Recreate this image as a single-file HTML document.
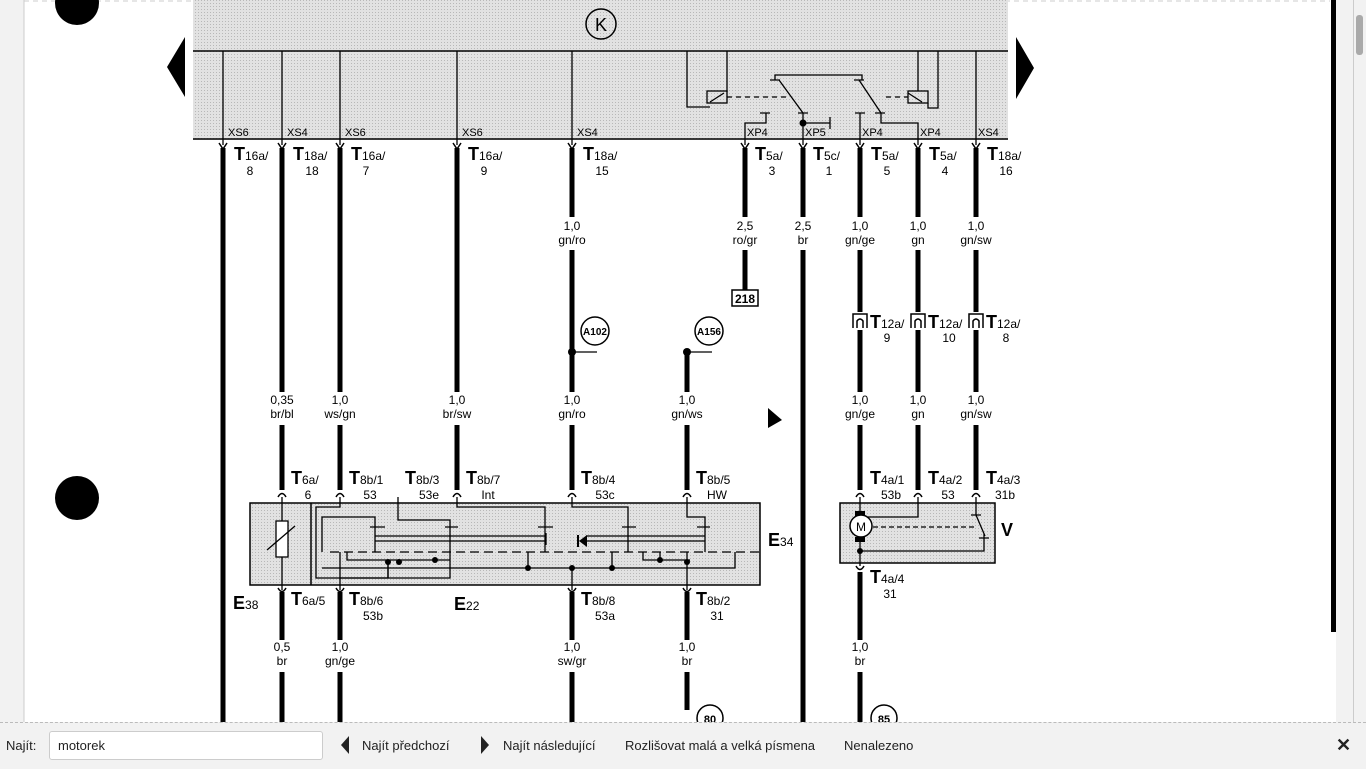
<!DOCTYPE html>
<html><head><meta charset="utf-8"><style>
html,body{margin:0;padding:0;width:1366px;height:768px;overflow:hidden;background:#fff;font-family:"Liberation Sans",sans-serif}
svg{position:absolute;left:0;top:0}
.bar{position:absolute;left:0;top:722px;width:1366px;height:46px;background:#f2f2f2;border-top:1px dashed #bbb;font-size:13px;color:#222}
.bar span{position:absolute;top:15px}
</style></head><body>
<svg width="1366" height="722" viewBox="0 0 1366 722" font-family="Liberation Sans, sans-serif">
<defs>
<pattern id="dots" width="3" height="3" patternUnits="userSpaceOnUse"><rect width="3" height="3" fill="#e2e2e2"/><rect width="1" height="1" fill="#b8b8b8"/></pattern>
</defs>
<rect x="0" y="0" width="24" height="722" fill="#f2f2f2"/>
<line x1="24" y1="0" x2="24" y2="722" stroke="#ccc"/>
<rect x="1336" y="0" width="30" height="722" fill="#f2f2f2"/>
<rect x="1331" y="0" width="5" height="632" fill="#000"/>
<line x1="1353.5" y1="0" x2="1353.5" y2="722" stroke="#ccc"/>
<rect x="1356" y="15" width="7" height="40" rx="3" fill="#aaa"/>
<line x1="24" y1="1" x2="1330" y2="1" stroke="#ccc" stroke-dasharray="5,4"/>
<!-- header -->
<rect x="193" y="0" width="815" height="140" fill="url(#dots)"/>
<line x1="193" y1="51" x2="1008" y2="51" stroke="#000" stroke-width="1.5"/>
<line x1="193" y1="139" x2="1008" y2="139" stroke="#000" stroke-width="1.5"/>
<circle cx="601" cy="24" r="15" fill="none" stroke="#000" stroke-width="1.5"/>
<text x="601" y="31" font-size="18" text-anchor="middle">K</text>
<circle cx="77" cy="3" r="22" fill="#000"/>
<circle cx="77" cy="498" r="22" fill="#000"/>
<polygon points="185,37 185,97 167,67" fill="#000"/>
<polygon points="1016,37 1016,99 1034,68" fill="#000"/>
<!-- thin wires in header -->
<g stroke="#000" stroke-width="1.3" fill="none">
<path d="M223,51V145M282,51V145M340,51V145M457,51V145M572,51V145M976,51V145"/>
<path d="M687,51V107H710M727,51V92"/>
<rect x="707" y="91" width="20" height="12"/>
<path d="M710,102L724,93M908,93L922,102"/>
<path d="M775,80V75H862V80M770,80H780M854,80H864M779,80L803,113M859,80L881,113"/>
<path d="M745,145V123H766V113M760,113H770M798,113H808M803,113V145M803,123H830M830,117V129"/>
<path d="M860,145V113M855,113H865M875,113H885M881,113V123H918V145"/>
<rect x="908" y="91" width="20" height="12"/>
<path d="M918,51V91M938,51V108H928V103"/>
</g>
<circle cx="803" cy="123" r="3.5" fill="#000"/>
<path d="M727,97H790M886,97H908" stroke="#000" stroke-width="1.3" stroke-dasharray="5,4"/>
<!-- thick wires -->
<g stroke="#000" stroke-width="5" fill="none">
<path d="M223,148V722"/>
<path d="M282,148V392M282,425V490M282,592V640M282,672V722"/>
<path d="M340,148V392M340,425V490M340,592V640M340,672V722"/>
<path d="M457,148V392M457,425V490"/>
<path d="M572,148V217M572,250V392M572,425V490M572,592V640M572,672V722"/>
<path d="M687,352V392M687,425V490M687,592V640M687,672V710"/>
<path d="M745,148V217M745,250V290"/>
<path d="M803,148V217M803,250V722"/>
<path d="M860,148V217M860,250V312M860,330V392M860,425V490M860,572V640M860,672V722"/>
<path d="M918,148V217M918,250V312M918,330V392M918,425V490"/>
<path d="M976,148V217M976,250V312M976,330V392M976,425V490"/>
</g>
<!-- arrowheads -->
<g stroke="#000" stroke-width="1.5" fill="none">
<path d="M219,143L223,149L227,143M278,143L282,149L286,143M336,143L340,149L344,143M453,143L457,149L461,143M568,143L572,149L576,143M741,143L745,149L749,143M799,143L803,149L807,143M856,143L860,149L864,143M914,143L918,149L922,143M972,143L976,149L980,143"/>
<path d="M278,497Q282,490 286,497M336,497Q340,490 344,497M453,497Q457,490 461,497M568,497Q572,490 576,497M683,497Q687,490 691,497M856,497Q860,490 864,497M914,497Q918,490 922,497M972,497Q976,490 980,497"/>
<path d="M278,588Q282,595 286,588M336,588Q340,595 344,588M568,588Q572,595 576,588M683,588Q687,595 691,588M856,566Q860,573 864,566"/>
</g>
<!-- A102/A156 -->
<circle cx="572" cy="352" r="4" fill="#000"/><path d="M572,352H597" stroke="#000" stroke-width="1.3"/>
<circle cx="595" cy="331" r="14" fill="#fff" stroke="#000" stroke-width="1.5"/><text x="595" y="335" font-size="10" font-weight="bold" text-anchor="middle">A102</text>
<circle cx="687" cy="352" r="4" fill="#000"/><path d="M687,352H712" stroke="#000" stroke-width="1.3"/>
<circle cx="709" cy="331" r="14" fill="#fff" stroke="#000" stroke-width="1.5"/><text x="709" y="335" font-size="10" font-weight="bold" text-anchor="middle">A156</text>
<rect x="732" y="290" width="26" height="16" fill="#fff" stroke="#000" stroke-width="1.5"/><text x="745" y="303" font-size="12" font-weight="bold" text-anchor="middle">218</text>
<circle cx="710" cy="718" r="13" fill="#fff" stroke="#000" stroke-width="1.5"/><text x="710" y="723" font-size="11" font-weight="bold" text-anchor="middle">80</text>
<circle cx="884" cy="718" r="13" fill="#fff" stroke="#000" stroke-width="1.5"/><text x="884" y="723" font-size="11" font-weight="bold" text-anchor="middle">85</text>
<!-- T12a connectors -->
<g fill="#fff" stroke="#000" stroke-width="1.5">
<path d="M853,328V314H867V328M857,328V321Q860,317 863,321V328"/>
<path d="M911,328V314H925V328M915,328V321Q918,317 921,321V328"/>
<path d="M969,328V314H983V328M973,328V321Q976,317 979,321V328"/>
</g>
<!-- boxes -->
<rect x="250" y="503" width="510" height="82" fill="url(#dots)" stroke="#000" stroke-width="1.5"/>
<line x1="311" y1="503" x2="311" y2="585" stroke="#000" stroke-width="1.5"/>
<rect x="840" y="503" width="155" height="60" fill="url(#dots)" stroke="#000" stroke-width="1.5"/>
<g stroke="#000" stroke-width="1.3" fill="none">
<path d="M282,497V590"/>
<rect x="276" y="521" width="12" height="36" fill="#fff"/>
<path d="M267,550L295,526"/>
<path d="M340,497V507H316V578H388V560"/>
<path d="M322,552V517H375V552M340,552V590"/>
<path d="M398,497V520H450V552M457,497V507H545V552M572,497V507H628V552M687,497V517H705V552"/>
<path d="M375,536H545M375,541H545M546,533V545M586,536H705M586,541H705"/>
<path d="M370,527H385M445,527H458M538,527H553M622,527H636M697,527H710"/>
<path d="M347,552V560H450V552M388,560V578M450,560V578H340"/>
<path d="M322,568H735V552M528,552V568M612,552V568M643,552V560H690M660,560V552M687,552V590M572,568V590"/>
</g>
<polygon points="579,541 587,535 587,547" fill="#000"/><line x1="578" y1="535" x2="578" y2="547" stroke="#000" stroke-width="2"/>
<path d="M330,552H760" stroke="#000" stroke-width="1.3" stroke-dasharray="9,5"/>
<g fill="#000"><circle cx="388" cy="562" r="3"/><circle cx="399" cy="562" r="3"/><circle cx="435" cy="560" r="3"/><circle cx="528" cy="568" r="3"/><circle cx="572" cy="568" r="3"/><circle cx="612" cy="568" r="3"/><circle cx="660" cy="560" r="3"/><circle cx="687" cy="562" r="3"/></g>
<!-- V motor -->
<g stroke="#000" stroke-width="1.3" fill="none">
<path d="M860,497V515M860,537V566M918,497V517H868M976,497V515L985,536M984,534V551H860M971,515H981M979,538H989"/>
</g>
<path d="M873,527H975" stroke="#000" stroke-width="1.3" stroke-dasharray="5,3"/>
<rect x="855" y="511" width="10" height="5" fill="#000"/><rect x="855" y="537" width="10" height="5" fill="#000"/>
<circle cx="861" cy="526" r="11" fill="#fff" stroke="#000" stroke-width="1.5"/><text x="861" y="531" font-size="12" text-anchor="middle">M</text>
<circle cx="860" cy="551" r="3" fill="#000"/>
<!-- XS labels -->
<g font-size="11" fill="#000">
<text x="228" y="136">XS6</text><text x="287" y="136">XS4</text><text x="345" y="136">XS6</text><text x="462" y="136">XS6</text><text x="577" y="136">XS4</text>
<text x="747" y="136">XP4</text><text x="805" y="136">XP5</text><text x="862" y="136">XP4</text><text x="920" y="136">XP4</text><text x="978" y="136">XS4</text>
</g>
<!-- T labels -->
<g font-size="18" font-weight="bold" fill="#000">
<text x="234" y="160">T<tspan font-size="12" font-weight="normal">16a/</tspan></text>
<text x="293" y="160">T<tspan font-size="12" font-weight="normal">18a/</tspan></text>
<text x="351" y="160">T<tspan font-size="12" font-weight="normal">16a/</tspan></text>
<text x="468" y="160">T<tspan font-size="12" font-weight="normal">16a/</tspan></text>
<text x="583" y="160">T<tspan font-size="12" font-weight="normal">18a/</tspan></text>
<text x="755" y="160">T<tspan font-size="12" font-weight="normal">5a/</tspan></text>
<text x="813" y="160">T<tspan font-size="12" font-weight="normal">5c/</tspan></text>
<text x="871" y="160">T<tspan font-size="12" font-weight="normal">5a/</tspan></text>
<text x="929" y="160">T<tspan font-size="12" font-weight="normal">5a/</tspan></text>
<text x="987" y="160">T<tspan font-size="12" font-weight="normal">18a/</tspan></text>
<text x="870" y="328">T<tspan font-size="12" font-weight="normal">12a/</tspan></text>
<text x="928" y="328">T<tspan font-size="12" font-weight="normal">12a/</tspan></text>
<text x="986" y="328">T<tspan font-size="12" font-weight="normal">12a/</tspan></text>
<text x="291" y="484">T<tspan font-size="12" font-weight="normal">6a/</tspan></text>
<text x="349" y="484">T<tspan font-size="12" font-weight="normal">8b/1</tspan></text>
<text x="405" y="484">T<tspan font-size="12" font-weight="normal">8b/3</tspan></text>
<text x="466" y="484">T<tspan font-size="12" font-weight="normal">8b/7</tspan></text>
<text x="581" y="484">T<tspan font-size="12" font-weight="normal">8b/4</tspan></text>
<text x="696" y="484">T<tspan font-size="12" font-weight="normal">8b/5</tspan></text>
<text x="870" y="484">T<tspan font-size="12" font-weight="normal">4a/1</tspan></text>
<text x="928" y="484">T<tspan font-size="12" font-weight="normal">4a/2</tspan></text>
<text x="986" y="484">T<tspan font-size="12" font-weight="normal">4a/3</tspan></text>
<text x="291" y="605">T<tspan font-size="12" font-weight="normal">6a/5</tspan></text>
<text x="349" y="605">T<tspan font-size="12" font-weight="normal">8b/6</tspan></text>
<text x="581" y="605">T<tspan font-size="12" font-weight="normal">8b/8</tspan></text>
<text x="696" y="605">T<tspan font-size="12" font-weight="normal">8b/2</tspan></text>
<text x="870" y="583">T<tspan font-size="12" font-weight="normal">4a/4</tspan></text>
<text x="233" y="609">E<tspan font-size="12" font-weight="normal">38</tspan></text>
<text x="454" y="610">E<tspan font-size="12" font-weight="normal">22</tspan></text>
<text x="768" y="546">E<tspan font-size="12" font-weight="normal">34</tspan></text>
<text x="1001" y="536">V</text>
</g>
<g font-size="12" fill="#000" text-anchor="middle">
<text x="250" y="175">8</text><text x="312" y="175">18</text><text x="366" y="175">7</text><text x="484" y="175">9</text><text x="602" y="175">15</text>
<text x="772" y="175">3</text><text x="829" y="175">1</text><text x="887" y="175">5</text><text x="945" y="175">4</text><text x="1006" y="175">16</text>
<text x="887" y="342">9</text><text x="949" y="342">10</text><text x="1006" y="342">8</text>
<text x="308" y="499">6</text><text x="370" y="499">53</text><text x="429" y="499">53e</text><text x="488" y="499">Int</text><text x="605" y="499">53c</text><text x="717" y="499">HW</text>
<text x="891" y="499">53b</text><text x="948" y="499">53</text><text x="1005" y="499">31b</text>
<text x="373" y="620">53b</text><text x="605" y="620">53a</text><text x="717" y="620">31</text><text x="890" y="598">31</text>
<text x="572" y="230">1,0</text><text x="572" y="244">gn/ro</text>
<text x="745" y="230">2,5</text><text x="745" y="244">ro/gr</text>
<text x="803" y="230">2,5</text><text x="803" y="244">br</text>
<text x="860" y="230">1,0</text><text x="860" y="244">gn/ge</text>
<text x="918" y="230">1,0</text><text x="918" y="244">gn</text>
<text x="976" y="230">1,0</text><text x="976" y="244">gn/sw</text>
<text x="282" y="404">0,35</text><text x="282" y="418">br/bl</text>
<text x="340" y="404">1,0</text><text x="340" y="418">ws/gn</text>
<text x="457" y="404">1,0</text><text x="457" y="418">br/sw</text>
<text x="572" y="404">1,0</text><text x="572" y="418">gn/ro</text>
<text x="687" y="404">1,0</text><text x="687" y="418">gn/ws</text>
<text x="860" y="404">1,0</text><text x="860" y="418">gn/ge</text>
<text x="918" y="404">1,0</text><text x="918" y="418">gn</text>
<text x="976" y="404">1,0</text><text x="976" y="418">gn/sw</text>
<text x="282" y="651">0,5</text><text x="282" y="665">br</text>
<text x="340" y="651">1,0</text><text x="340" y="665">gn/ge</text>
<text x="572" y="651">1,0</text><text x="572" y="665">sw/gr</text>
<text x="687" y="651">1,0</text><text x="687" y="665">br</text>
<text x="860" y="651">1,0</text><text x="860" y="665">br</text>
</g>
<polygon points="768,408 768,428 782,420" fill="#000"/>
</svg>
<div class="bar">
<span style="left:6px">Najít:</span>
<div style="position:absolute;left:49px;top:8px;width:272px;height:27px;background:#fff;border:1px solid #ccc;border-radius:3px"></div>
<span style="left:58px">motorek</span>
<svg style="position:absolute;left:339px;top:13px" width="12" height="20"><polygon points="10,0 10,18 2,9" fill="#222"/></svg>
<span style="left:362px">Najít předchozí</span>
<svg style="position:absolute;left:479px;top:13px" width="12" height="20"><polygon points="2,0 2,18 10,9" fill="#222"/></svg>
<span style="left:503px">Najít následující</span>
<span style="left:625px">Rozlišovat malá a velká písmena</span>
<span style="left:844px">Nenalezeno</span>
<span style="left:1336px;top:12px;font-size:18px;font-weight:bold">✕</span>
</div>
</body></html>
